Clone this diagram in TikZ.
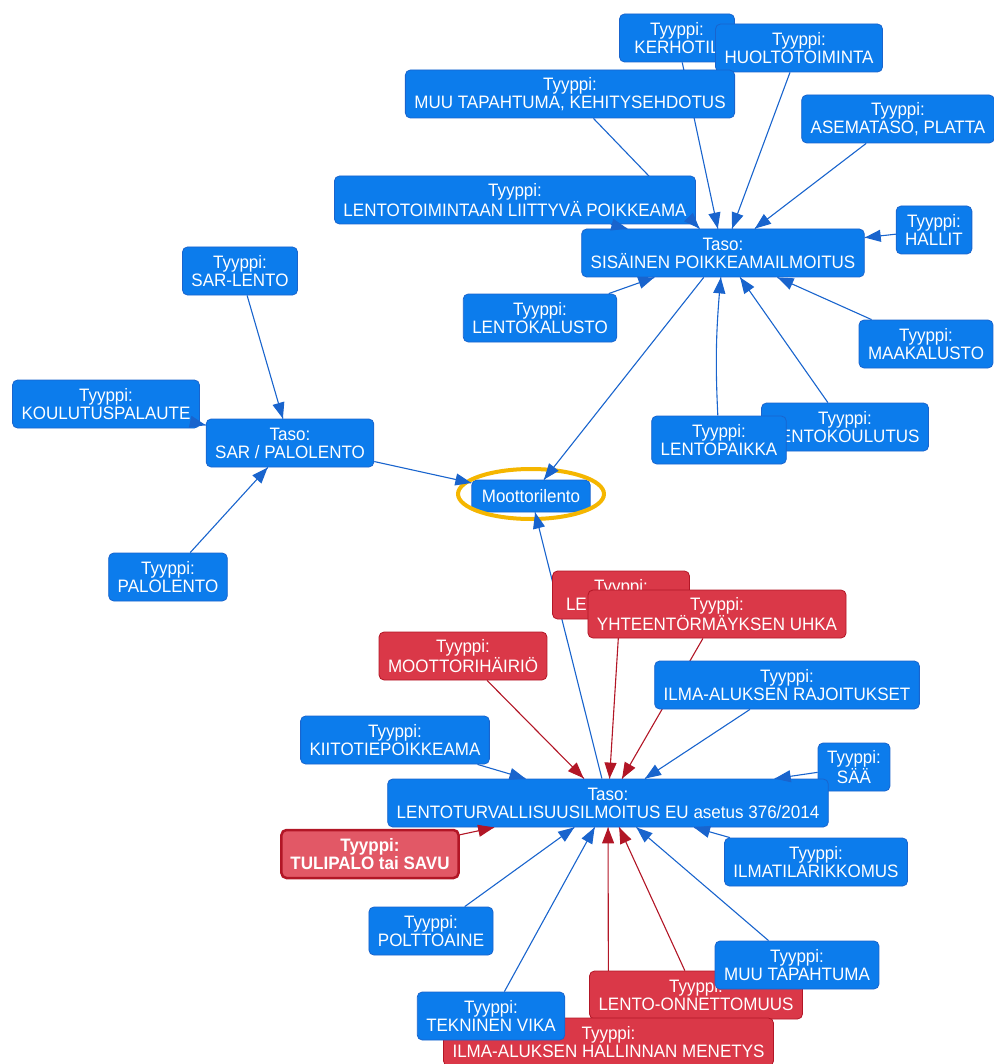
\documentclass[tikz,border=0pt]{standalone}
\usepackage{fontspec}
\setmainfont{Liberation Sans}[FakeStretch=0.945]
\usetikzlibrary{arrows.meta,backgrounds,decorations.markings}
\definecolor{myblue}{RGB}{12,124,236}
\definecolor{mybluedark}{RGB}{25,100,205}
\definecolor{myred}{RGB}{218,56,72}
\definecolor{myreddark}{RGB}{178,22,38}
\definecolor{myfire}{RGB}{226,88,102}
\definecolor{myorange}{RGB}{245,182,0}

\tikzset{
    box/.style={draw=mybluedark, fill=myblue, text=white, rounded corners=5pt,
        align=center, minimum height=48pt, inner xsep=9pt, inner ysep=3pt,
        line width=0.8pt, font=\fontsize{18}{18}\selectfont},
    redbox/.style={box, draw=myreddark, fill=myred},
    firebox/.style={box, draw=myreddark, fill=myfire, line width=2.5pt,
        font=\fontsize{18}{18}\selectfont\bfseries},
    link/.style={line width=1.1pt, mybluedark},
    redlink/.style={line width=1.1pt, myreddark},
    headonly/.style={postaction={decorate}, decoration={markings,
        mark=at position 1 with {\arrow{Triangle[length=16pt, width=12pt]}}}},
}

\begin{document}
\begin{tikzpicture}[x=1pt, y=-1pt]
    \useasboundingbox (0, 0) rectangle (993, 1064);
    % Taso: sisainen poikkeamailmoitus
    \node[box, minimum width=115pt] (kerho) at (677, 38) {Tyyppi:\\KERHOTIL};
    \node[box] (huolto) at (799, 48) {Tyyppi:\\HUOLTOTOIMINTA};
    \node[box] (muukehit) at (570, 94) {Tyyppi:\\MUU TAPAHTUMA, KEHITYSEHDOTUS};
    \node[box] (asema) at (898, 119) {Tyyppi:\\ASEMATASO, PLATTA};
    \node[box] (lentotoim) at (515, 200) {Tyyppi:\\LENTOTOIMINTAAN LIITTYVÄ POIKKEAMA};
    \node[box] (hallit) at (934, 230) {Tyyppi:\\HALLIT};
    \node[box] (sisainen) at (723, 253) {Taso:\\SISÄINEN POIKKEAMAILMOITUS};
    \node[box] (lentokal) at (540, 318) {Tyyppi:\\LENTOKALUSTO};
    \node[box] (maakal) at (926, 344) {Tyyppi:\\MAAKALUSTO};
    \node[box] (lentokoul) at (845, 427) {Tyyppi:\\LENTOKOULUTUS};
    \node[box] (lentopaik) at (719, 440) {Tyyppi:\\LENTOPAIKKA};
    % Taso: SAR / palolento
    \node[box] (sarlento) at (240, 271) {Tyyppi:\\SAR-LENTO};
    \node[box] (koulpal) at (106, 404) {Tyyppi:\\KOULUTUSPALAUTE};
    \node[box] (sarpalo) at (290, 443) {Taso:\\SAR / PALOLENTO};
    \node[box] (palolento) at (168, 577) {Tyyppi:\\PALOLENTO};
    % Lentomuoto
    \node[box, minimum height=32pt, inner xsep=10pt] (moottori) at (531, 496) {Moottorilento};
    % Taso: lentoturvallisuusilmoitus
    \node[redbox, minimum width=137pt] (lenred) at (621, 595) {Tyyppi:\\\makebox[110pt][l]{LEN}};
    \node[redbox] (yhteen) at (717, 614) {Tyyppi:\\YHTEENTÖRMÄYKSEN UHKA};
    \node[redbox] (moothairio) at (463, 656) {Tyyppi:\\MOOTTORIHÄIRIÖ};
    \node[box] (rajoit) at (787, 685) {Tyyppi:\\ILMA-ALUKSEN RAJOITUKSET};
    \node[box] (kiitotie) at (395, 740) {Tyyppi:\\KIITOTIEPOIKKEAMA};
    \node[box] (saa) at (854, 767) {Tyyppi:\\SÄÄ};
    \node[box] (lentoturv) at (608, 803) {Taso:\\LENTOTURVALLISUUSILMOITUS EU asetus 376/2014};
    \node[firebox] (tulipalo) at (370, 854) {Tyyppi:\\TULIPALO tai SAVU};
    \node[box] (ilmatila) at (816, 862) {Tyyppi:\\ILMATILARIKKOMUS};
    \node[box] (poltto) at (431, 931) {Tyyppi:\\POLTTOAINE};
    \node[redbox] (onnett) at (696, 995) {Tyyppi:\\LENTO-ONNETTOMUUS};
    \node[redbox] (hallinta) at (608.5, 1042) {Tyyppi:\\ILMA-ALUKSEN HALLINNAN MENETYS};
    \node[box] (muutap) at (797, 965) {Tyyppi:\\MUU TAPAHTUMA};
    \node[box] (tekvika) at (491, 1016) {Tyyppi:\\TEKNINEN VIKA};
    % Valinta
    \draw[myorange, line width=4pt] (moottori.center) ++(0, -2) ellipse [x radius=73pt, y radius=25pt];
    % Links (lines under the boxes, heads on top)
    \foreach \from/\to/\kind in {kerho/sisainen/link, huolto/sisainen/link,
        muukehit/sisainen/link, asema/sisainen/link, lentotoim/sisainen/link,
        hallit/sisainen/link, lentokal/sisainen/link, maakal/sisainen/link,
        lentokoul/sisainen/link, sisainen/moottori/link,
        sarlento/sarpalo/link, koulpal/sarpalo/link, palolento/sarpalo/link,
        sarpalo/moottori/link, lentoturv/moottori/link,
        lenred/lentoturv/redlink, yhteen/lentoturv/redlink,
        moothairio/lentoturv/redlink, rajoit/lentoturv/link,
        kiitotie/lentoturv/link, saa/lentoturv/link,
        tulipalo/lentoturv/redlink, ilmatila/lentoturv/link,
        poltto/lentoturv/link, muutap/lentoturv/link,
        onnett/lentoturv/redlink, hallinta/lentoturv/redlink,
        tekvika/lentoturv/link}
    {
        \begin{scope}[on background layer]
            \draw[\kind] (\from) -- (\to);
        \end{scope}
        \path[\kind, headonly] (\from) -- (\to);
    }
    \begin{scope}[on background layer]
        \draw[link] (lentopaik) to[bend left=4] (sisainen);
    \end{scope}
    \path[link, headonly] (lentopaik) to[bend left=4] (sisainen);
\end{tikzpicture}
\end{document}
